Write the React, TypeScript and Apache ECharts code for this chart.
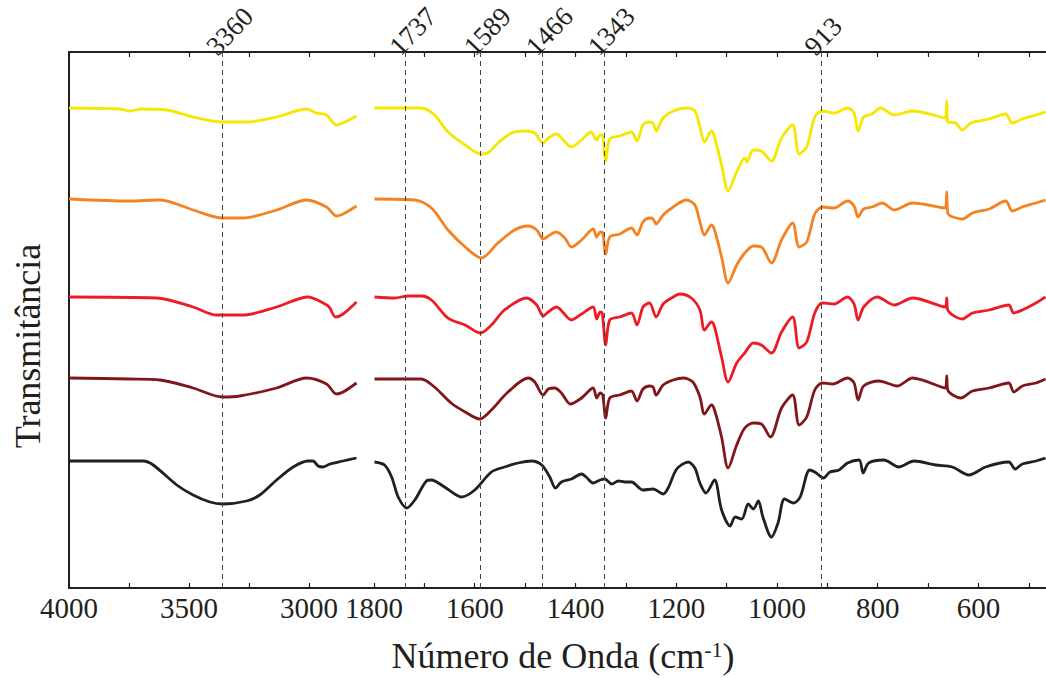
import React, { useEffect, useRef } from "react";
import * as echarts from "echarts";

type P = [number, number];

// Wavenumber (cm-1) vs. offset transmittance (arbitrary units)
const YELLOW_LEFT: P[] = [[4000,480],[3788,479],[3746,477],[3700,479],[3593,478],[3483,471],[3360,466],[3260,466],[3135,471],[3010,479],[2969,475],[2927,473],[2886,463],[2858,465],[2802,472]];
const YELLOW_RIGHT: P[] = [[1799,480],[1706,480],[1680,473],[1653,456],[1619,443],[1587,434],[1574,435],[1554,445],[1527,455],[1500,457],[1481,455],[1464,445],[1454,450],[1438,454],[1421,446],[1408,441],[1388,448],[1369,456],[1358,448],[1351,453],[1347,453],[1340,427],[1332,449],[1312,452],[1289,456],[1278,447],[1266,463],[1253,466],[1246,465],[1240,457],[1226,470],[1206,477],[1180,480],[1163,477],[1153,461],[1144,446],[1130,457],[1124,451],[1110,423],[1097,397],[1080,416],[1064,430],[1060,426],[1047,438],[1031,437],[1011,427],[991,450],[969,463],[956,434],[941,441],[925,471],[910,477],[887,475],[860,480],[847,475],[839,457],[828,471],[811,474],[795,480],[767,473],[731,477],[666,470],[663,487],[661,466],[645,465],[632,458],[615,465],[579,469],[546,474],[533,465],[513,469],[486,473],[467,476]];

const ORANGE_LEFT: P[] = [[4000,389],[3746,387],[3621,388],[3483,378],[3360,370],[3275,370],[3135,378],[3010,388],[2927,381],[2886,372],[2858,374],[2802,382]];
const ORANGE_RIGHT: P[] = [[1799,389],[1719,388],[1686,380],[1653,358],[1619,341],[1587,330],[1554,345],[1521,358],[1494,362],[1477,358],[1464,349],[1454,352],[1438,356],[1421,350],[1408,341],[1388,348],[1365,359],[1358,351],[1351,356],[1346,355],[1340,334],[1332,351],[1312,354],[1289,360],[1278,353],[1266,366],[1253,370],[1246,369],[1240,364],[1226,373],[1206,381],[1180,388],[1163,383],[1153,366],[1144,353],[1130,363],[1124,358],[1110,331],[1097,305],[1080,323],[1064,335],[1047,342],[1031,341],[1011,325],[991,348],[969,365],[956,341],[941,346],[925,374],[910,381],[887,380],[860,387],[847,382],[839,371],[828,379],[811,381],[791,385],[767,378],[731,385],[666,380],[663,396],[661,375],[632,369],[612,375],[579,379],[546,387],[533,377],[513,381],[486,385],[467,388]];

const RED_LEFT: P[] = [[4000,291],[3635,290],[3483,281],[3385,273],[3275,273],[3135,281],[3004,291],[2941,285],[2916,281],[2889,271],[2858,274],[2802,286]];
const RED_RIGHT: P[] = [[1799,291],[1759,290],[1732,292],[1706,292],[1686,288],[1653,270],[1619,263],[1589,255],[1567,263],[1541,278],[1497,290],[1477,283],[1464,272],[1454,276],[1438,281],[1408,268],[1388,274],[1365,281],[1358,269],[1351,276],[1347,275],[1340,243],[1332,268],[1312,271],[1289,275],[1278,263],[1266,281],[1253,285],[1240,271],[1226,284],[1206,291],[1193,294],[1170,290],[1153,278],[1144,258],[1130,266],[1124,261],[1110,231],[1097,206],[1080,225],[1064,235],[1047,245],[1031,243],[1011,235],[991,256],[969,271],[956,240],[941,246],[925,275],[910,285],[887,284],[860,291],[847,284],[839,268],[828,281],[801,291],[767,283],[731,290],[666,281],[663,290],[661,278],[632,269],[612,275],[579,278],[540,283],[530,275],[513,278],[486,285],[467,291]];

const DARKRED_LEFT: P[] = [[4000,210],[3746,209],[3621,208],[3483,200],[3360,191],[3289,192],[3135,200],[3010,210],[2927,204],[2886,194],[2858,196],[2802,205]];
const DARKRED_RIGHT: P[] = [[1799,209],[1739,209],[1706,209],[1680,201],[1647,185],[1619,176],[1590,169],[1567,178],[1534,196],[1494,210],[1481,206],[1464,193],[1454,199],[1441,200],[1428,195],[1410,184],[1388,190],[1365,200],[1358,190],[1351,195],[1346,193],[1340,170],[1332,190],[1312,193],[1289,197],[1278,187],[1266,199],[1253,202],[1246,201],[1240,193],[1226,203],[1206,208],[1186,210],[1167,206],[1153,191],[1144,174],[1130,183],[1124,178],[1110,151],[1097,120],[1080,143],[1064,160],[1047,165],[1031,164],[1013,151],[991,180],[969,193],[956,163],[941,171],[925,198],[910,205],[890,204],[860,210],[847,205],[839,188],[828,202],[798,207],[761,202],[731,210],[666,200],[663,212],[661,198],[635,190],[612,197],[579,200],[540,205],[530,196],[513,202],[486,205],[467,209]];

const BLACK_LEFT: P[] = [[4000,127],[3691,127],[3649,123],[3551,103],[3483,93],[3413,86],[3360,84],[3260,87],[3205,93],[3135,108],[3066,121],[3004,127],[2983,127],[2962,122],[2941,121],[2913,124],[2858,127],[2802,130]];
const BLACK_RIGHT: P[] = [[1799,126],[1779,123],[1765,111],[1752,91],[1735,80],[1719,88],[1696,107],[1686,108],[1660,101],[1626,91],[1600,98],[1567,116],[1541,121],[1514,125],[1487,127],[1467,123],[1451,111],[1440,100],[1428,106],[1408,109],[1388,114],[1379,111],[1365,105],[1351,108],[1342,109],[1328,104],[1315,107],[1302,106],[1289,106],[1266,98],[1246,99],[1226,94],[1216,100],[1199,119],[1176,126],[1163,120],[1153,105],[1141,95],[1124,108],[1110,78],[1093,62],[1083,71],[1070,69],[1057,84],[1047,79],[1037,87],[1028,71],[1011,51],[998,65],[985,89],[967,85],[954,91],[935,118],[922,115],[908,110],[895,116],[877,118],[860,125],[837,128],[829,115],[818,125],[788,128],[758,121],[728,127],[685,123],[652,121],[619,113],[586,121],[540,126],[527,119],[513,124],[486,127],[467,130]];

const SPECTRA = [
  { name: "Amostra 1", color: "#f7e600", left: YELLOW_LEFT, right: YELLOW_RIGHT },
  { name: "Amostra 2", color: "#f58220", left: ORANGE_LEFT, right: ORANGE_RIGHT },
  { name: "Amostra 3", color: "#ed1c24", left: RED_LEFT, right: RED_RIGHT },
  { name: "Amostra 4", color: "#80161a", left: DARKRED_LEFT, right: DARKRED_RIGHT },
  { name: "Amostra 5", color: "#231f20", left: BLACK_LEFT, right: BLACK_RIGHT },
];

const LEFT_PEAKS = [3360];
const RIGHT_PEAKS = [1737, 1589, 1466, 1343, 913];
const LEFT_TICKS = [4000, 3750, 3500, 3250, 3000];
const LEFT_LABELS = [4000, 3500, 3000];
const RIGHT_TICKS = [1800, 1700, 1600, 1500, 1400, 1300, 1200, 1100, 1000, 900, 800, 700, 600, 500];
const RIGHT_LABELS = [1800, 1600, 1400, 1200, 1000, 800, 600];

const FONT = '"Liberation Serif", "Times New Roman", Times, serif';
const INK = "#231f20";

function xAx(gridIndex: number, min: number, max: number, ticks: number[], labels: number[], position: string, showLabel: boolean) {
  return {
    type: "value", gridIndex, min, max, inverse: true, position,
    axisLine: { show: true, onZero: false, lineStyle: { color: INK, width: 2 } },
    axisTick: { show: true, inside: true, length: 5, customValues: ticks, lineStyle: { color: INK, width: 1.2 } },
    axisLabel: { show: showLabel, customValues: labels, formatter: (v: number) => String(v), fontFamily: FONT, fontSize: 29, color: INK, margin: 5 },
    splitLine: { show: false },
  };
}

export default function App() {
  const ref = useRef<HTMLDivElement>(null);
  useEffect(() => {
    document.body.style.margin = "0";
    const chart = echarts.init(ref.current!, null, { renderer: "svg" });
    const series: any[] = [];
    const markStyle = { type: [5, 4], color: "#444", width: 1 };
    series.push({ type: "line", xAxisIndex: 0, yAxisIndex: 0, data: [], silent: true,
      markLine: { silent: true, symbol: ["none", "none"], label: { show: false }, lineStyle: markStyle, data: LEFT_PEAKS.map((v) => ({ xAxis: v })) } });
    series.push({ type: "line", xAxisIndex: 1, yAxisIndex: 1, data: [], silent: true,
      markLine: { silent: true, symbol: ["none", "none"], label: { show: false }, lineStyle: markStyle, data: RIGHT_PEAKS.map((v) => ({ xAxis: v })) } });
    SPECTRA.forEach((s) => {
      [0, 1].forEach((g) => {
        series.push({
          name: s.name, type: "line", xAxisIndex: g, yAxisIndex: g,
          data: g === 0 ? s.left : s.right, showSymbol: false, smooth: 0.3,
          lineStyle: { color: s.color, width: 2.8 }, itemStyle: { color: s.color },
        });
      });
    });
    chart.setOption({
      animation: false,
      grid: [
        { left: 69, top: 52, width: 288, height: 536 },
        { left: 374, top: 52, right: 0, height: 536 },
      ],
      xAxis: [
        xAx(0, 2800, 4000, LEFT_TICKS, LEFT_LABELS, "bottom", true),
        xAx(1, 466, 1800, RIGHT_TICKS, RIGHT_LABELS, "bottom", true),
        xAx(0, 2800, 4000, LEFT_TICKS, LEFT_LABELS, "top", false),
        xAx(1, 466, 1800, RIGHT_TICKS, RIGHT_LABELS, "top", false),
      ],
      yAxis: [
        { type: "value", gridIndex: 0, min: 0, max: 536, axisLine: { show: true, lineStyle: { color: INK, width: 2 } }, axisTick: { show: false }, axisLabel: { show: false }, splitLine: { show: false } },
        { type: "value", gridIndex: 1, min: 0, max: 536, axisLine: { show: false }, axisTick: { show: false }, axisLabel: { show: false }, splitLine: { show: false } },
      ],
      series,
    });

    const yTop = chart.convertToPixel({ yAxisIndex: 0 }, 536) as number;
    const yBot = chart.convertToPixel({ yAxisIndex: 0 }, 0) as number;
    const gapL = chart.convertToPixel({ xAxisIndex: 0 }, 2800) as number;
    const gapR = chart.convertToPixel({ xAxisIndex: 1 }, 1800) as number;
    const peakPx: { v: number; x: number }[] = [
      ...LEFT_PEAKS.map((v) => ({ v, x: chart.convertToPixel({ xAxisIndex: 0 }, v) as number })),
      ...RIGHT_PEAKS.map((v) => ({ v, x: chart.convertToPixel({ xAxisIndex: 1 }, v) as number })),
    ];
    const graphic: any[] = [
      { type: "line", shape: { x1: gapL, y1: yTop, x2: gapR, y2: yTop }, style: { stroke: INK, lineWidth: 2 } },
      { type: "line", shape: { x1: gapL, y1: yBot, x2: gapR, y2: yBot }, style: { stroke: INK, lineWidth: 2 } },
      ...peakPx.map((p) => ({
        type: "text", x: p.x - 2, y: yTop + 8, rotation: (46 * Math.PI) / 180,
        style: { text: String(p.v), fill: INK, fontFamily: FONT, fontSize: 27, align: "left", verticalAlign: "bottom" },
      })),
      {
        type: "text", x: 28, y: 346, rotation: Math.PI / 2,
        style: { text: "Transmitância", fill: INK, fontFamily: FONT, fontSize: 36, align: "center", verticalAlign: "middle" },
      },
      {
        type: "text", x: 563, y: 656,
        style: {
          text: "Número de Onda (cm{sup|-1})", fill: INK, fontFamily: FONT, fontSize: 36, align: "center", verticalAlign: "middle",
          rich: { sup: { fontSize: 22, fontFamily: FONT, fill: INK, verticalAlign: "top", padding: [0, 0, 14, 0] } },
        },
      },
    ];
    chart.setOption({ graphic });
    return () => chart.dispose();
  }, []);
  return <div ref={ref} style={{ width: 1046, height: 678 }} />;
}
